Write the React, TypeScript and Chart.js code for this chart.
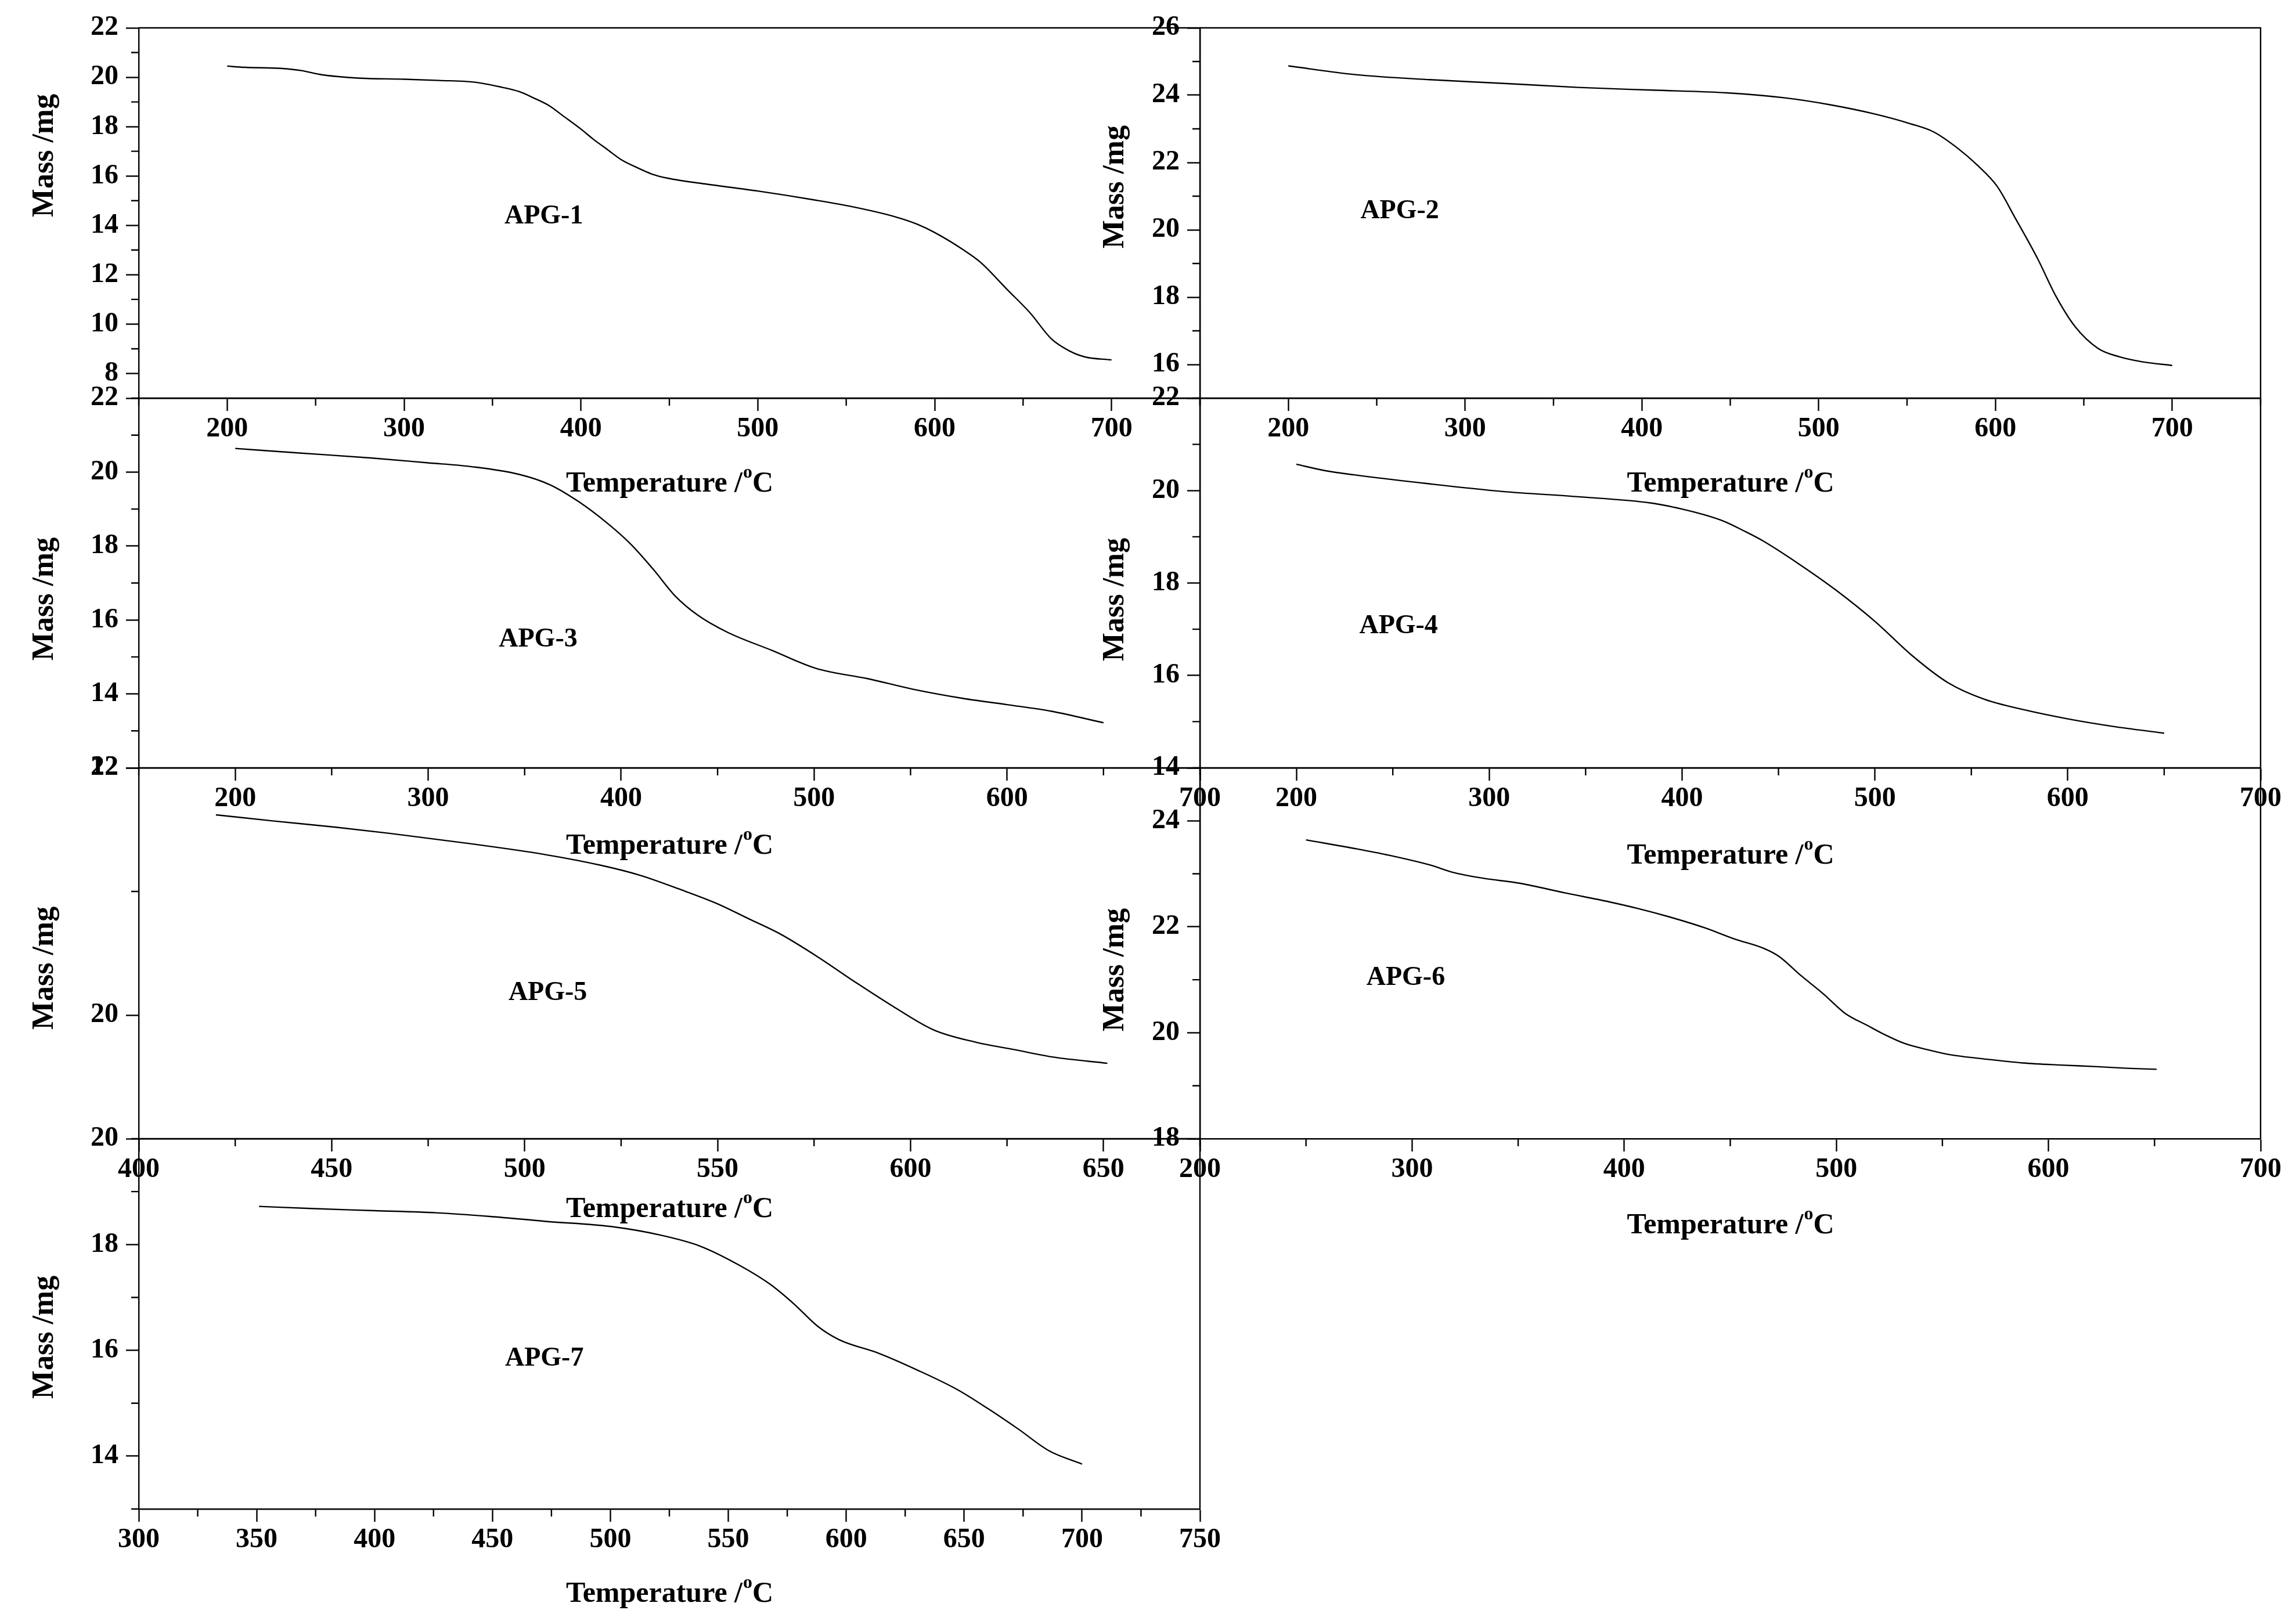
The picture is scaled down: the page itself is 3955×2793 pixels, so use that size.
import React, { useEffect, useRef } from "react";
import { Chart, registerables } from "chart.js";

Chart.register(...registerables);

// ---- data (temperature in °C, mass in mg) ----
const apg1Temp = [200, 210, 230, 242, 252, 262, 275, 300, 320, 340, 355, 365, 373, 382, 390, 400, 407, 415, 423, 432, 440, 449, 470, 500, 532, 553, 578, 590, 600, 616, 626, 641, 654, 666, 676, 685, 700];
const apg1Mass = [20.45, 20.4, 20.36, 20.27, 20.12, 20.03, 19.96, 19.92, 19.87, 19.8, 19.6, 19.42, 19.17, 18.85, 18.43, 17.9, 17.49, 17.07, 16.65, 16.33, 16.08, 15.91, 15.68, 15.39, 15.03, 14.76, 14.34, 14.05, 13.71, 13.02, 12.5, 11.4, 10.45, 9.4, 8.92, 8.67, 8.55];

const apg2Temp = [200, 238, 280, 322, 364, 406, 448, 481, 506, 531, 552, 565, 578, 590, 601, 611, 624, 634, 645, 658, 670, 683, 700];
const apg2Mass = [24.87, 24.61, 24.46, 24.35, 24.23, 24.15, 24.07, 23.92, 23.72, 23.45, 23.15, 22.91, 22.45, 21.91, 21.29, 20.37, 19.13, 18.05, 17.13, 16.48, 16.23, 16.08, 15.97];

const apg3Temp = [200, 232, 271, 300, 322, 347, 363, 378, 393, 405, 417, 428, 440, 455, 478, 501, 528, 551, 577, 600, 623, 650];
const apg3Mass = [20.64, 20.52, 20.38, 20.25, 20.15, 19.94, 19.66, 19.2, 18.61, 18.05, 17.35, 16.65, 16.12, 15.67, 15.18, 14.69, 14.41, 14.13, 13.88, 13.71, 13.53, 13.22];

const apg4Temp = [200, 215, 230, 268, 307, 345, 384, 400, 412, 422, 432, 442, 461, 480, 500, 519, 538, 557, 577, 600, 623, 650];
const apg4Mass = [20.57, 20.43, 20.34, 20.15, 19.98, 19.87, 19.73, 19.6, 19.47, 19.33, 19.13, 18.91, 18.4, 17.84, 17.17, 16.44, 15.84, 15.48, 15.26, 15.06, 14.9, 14.75];

const apg5Temp = [420, 435, 451, 465, 485, 505, 520, 530, 540, 550, 558, 566, 576, 586, 596, 606, 617, 627, 637, 651];
const apg5Mass = [21.62, 21.57, 21.52, 21.47, 21.39, 21.3, 21.21, 21.13, 21.02, 20.9, 20.78, 20.66, 20.47, 20.26, 20.06, 19.88, 19.78, 19.72, 19.66, 19.61];

const apg6Temp = [250, 274, 288, 309, 319, 333, 351, 372, 393, 407, 421, 438, 452, 466, 473, 483, 494, 504, 515, 522, 532, 543, 553, 571, 588, 606, 623, 637, 651];
const apg6Mass = [23.64, 23.47, 23.36, 23.16, 23.03, 22.92, 22.82, 22.64, 22.47, 22.34, 22.19, 21.98, 21.77, 21.59, 21.44, 21.09, 20.73, 20.37, 20.13, 19.98, 19.8, 19.68, 19.59, 19.5, 19.43, 19.39, 19.36, 19.33, 19.31];

const apg7Temp = [351, 373, 400, 426, 449, 472, 502, 521, 538, 555, 568, 578, 588, 597, 614, 630, 647, 660, 673, 686, 700];
const apg7Mass = [18.72, 18.68, 18.64, 18.6, 18.53, 18.44, 18.33, 18.18, 17.97, 17.6, 17.24, 16.87, 16.45, 16.2, 15.94, 15.63, 15.26, 14.9, 14.51, 14.1, 13.85];

const sampleNames = ["APG-1", "APG-2", "APG-3", "APG-4", "APG-5", "APG-6", "APG-7"];
const tempSeries = [apg1Temp, apg2Temp, apg3Temp, apg4Temp, apg5Temp, apg6Temp, apg7Temp];
const massSeries = [apg1Mass, apg2Mass, apg3Mass, apg4Mass, apg5Mass, apg6Mass, apg7Mass];

// axis ranges: [min, max, major step, minor step]
const xRanges = [
  [150, 750, 100, 50],
  [150, 750, 100, 50],
  [150, 700, 100, 50],
  [150, 700, 100, 50],
  [400, 675, 50, 25],
  [200, 700, 100, 50],
  [300, 750, 50, 25],
];
const yRanges = [
  [7, 22, 2, 1],
  [15, 26, 2, 1],
  [12, 22, 2, 1],
  [14, 22, 2, 1],
  [19, 22, 2, 1],
  [18, 25, 2, 1],
  [13, 20, 2, 1],
];
// where the sample name sits, in data units
const nameAt = [
  [379, 14.36],
  [263, 20.55],
  [357, 15.46],
  [253, 17.06],
  [506, 20.18],
  [297, 21.03],
  [472, 15.84],
];

// ---- page layout (px) ----
const COLS = [239, 2067, 3894];
const ROWS = [48, 686, 1323, 1962, 2600];
const PAD_L = 230;
const PAD_T = 45;
const PAD_R = 80;
const PAD_B = 190;
const cells = [
  { col: 0, row: 0, massY: 268, tempDy: 144 },
  { col: 1, row: 0, massY: 322, tempDy: 144 },
  { col: 0, row: 1, massY: 1032, tempDy: 131 },
  { col: 1, row: 1, massY: 1033, tempDy: 148 },
  { col: 0, row: 2, massY: 1668, tempDy: 118 },
  { col: 1, row: 2, massY: 1671, tempDy: 146 },
  { col: 0, row: 3, massY: 2304, tempDy: 143 },
];
const MASS_DX = [161, 145];

const FONT = "'Liberation Serif', 'Times New Roman', Times, serif";
const MAJOR_LEN = 22;
const MINOR_LEN = 13;
const AXIS_W = 2.4;

// multiples of step inside [min, max]
const stepValues = (min: number, max: number, step: number) => {
  const out: number[] = [];
  for (let v = Math.ceil(min / step - 1e-9) * step; v <= max + 1e-9; v += step) {
    out.push(Math.round(v * 1000) / 1000);
  }
  return out;
};

interface PanelProps {
  index: number;
}

const Panel: React.FC<PanelProps> = ({ index }) => {
  const canvasRef = useRef<HTMLCanvasElement | null>(null);
  const chartRef = useRef<Chart | null>(null);

  const cell = cells[index];
  const left = COLS[cell.col];
  const right = COLS[cell.col + 1];
  const top = ROWS[cell.row];
  const bottom = ROWS[cell.row + 1];
  const width = right - left + PAD_L + PAD_R;
  const height = bottom - top + PAD_T + PAD_B;
  const canvasTop = top - PAD_T;

  useEffect(() => {
    if (!canvasRef.current) return;
    if (chartRef.current) chartRef.current.destroy();

    const [xMin, xMax, xStep, xMinor] = xRanges[index];
    const [yMin, yMax, yStep, yMinor] = yRanges[index];
    const temps = tempSeries[index];
    const mass = massSeries[index];
    const xMajors = stepValues(xMin, xMax, xStep);
    const yMajors = stepValues(yMin, yMax, yStep);
    const xMinors = stepValues(xMin, xMax, xMinor).filter((v) => !xMajors.includes(v));
    const yMinors = stepValues(yMin, yMax, yMinor).filter((v) => !yMajors.includes(v));

    // frame, minor ticks and all the free text
    const decorations = {
      id: "decorations",
      afterDraw(chart: Chart) {
        const { ctx, chartArea: a } = chart;
        const xs = chart.scales.x;
        const ys = chart.scales.y;
        ctx.save();
        ctx.strokeStyle = "#000";
        ctx.fillStyle = "#000";

        ctx.lineWidth = AXIS_W;
        ctx.beginPath();
        ctx.moveTo(a.left, a.top);
        ctx.lineTo(a.right, a.top);
        ctx.lineTo(a.right, a.bottom);
        ctx.stroke();

        ctx.beginPath();
        xMinors.forEach((v) => {
          const px = xs.getPixelForValue(v);
          ctx.moveTo(px, a.bottom);
          ctx.lineTo(px, a.bottom + MINOR_LEN);
        });
        yMinors.forEach((v) => {
          const py = ys.getPixelForValue(v);
          ctx.moveTo(a.left, py);
          ctx.lineTo(a.left - MINOR_LEN, py);
        });
        ctx.stroke();

        // sample name
        ctx.font = `bold 46px ${FONT}`;
        ctx.textAlign = "center";
        ctx.textBaseline = "middle";
        ctx.fillText(
          sampleNames[index],
          xs.getPixelForValue(nameAt[index][0]),
          ys.getPixelForValue(nameAt[index][1])
        );

        // y title
        ctx.save();
        ctx.translate(a.left - MASS_DX[cell.col], cell.massY - canvasTop);
        ctx.rotate(-Math.PI / 2);
        ctx.font = `bold 52px ${FONT}`;
        ctx.fillText("Mass /mg", 0, 0);
        ctx.restore();

        // x title with superscript o
        const head = "Temperature /";
        ctx.font = `bold 50px ${FONT}`;
        const wHead = ctx.measureText(head).width;
        const wC = ctx.measureText("C").width;
        ctx.font = `bold 32px ${FONT}`;
        const wO = ctx.measureText("o").width;
        const start = (a.left + a.right) / 2 - (wHead + wO + wC) / 2;
        const base = a.bottom + cell.tempDy + 17;
        ctx.textAlign = "left";
        ctx.textBaseline = "alphabetic";
        ctx.font = `bold 50px ${FONT}`;
        ctx.fillText(head, start, base);
        ctx.fillText("C", start + wHead + wO + 1, base);
        ctx.font = `bold 32px ${FONT}`;
        ctx.fillText("o", start + wHead + 1, base - 24);

        ctx.restore();
      },
    };

    const tickFont = { family: FONT, size: 48, weight: "bold" as const };

    chartRef.current = new Chart(canvasRef.current, {
      type: "line",
      data: {
        datasets: [
          {
            data: temps.map((t, i) => ({ x: t, y: mass[i] })),
            borderColor: "#000",
            borderWidth: 2.4,
            pointRadius: 0,
            fill: false,
            cubicInterpolationMode: "monotone",
          },
        ],
      },
      options: {
        responsive: false,
        animation: false,
        events: [],
        layout: { padding: { left: 0, top: PAD_T, right: PAD_R, bottom: 0 } },
        plugins: { legend: { display: false }, tooltip: { enabled: false } },
        scales: {
          x: {
            type: "linear",
            min: xMin,
            max: xMax,
            afterFit: (s: any) => {
              s.height = PAD_B;
            },
            afterBuildTicks: (s: any) => {
              s.ticks = xMajors.map((v) => ({ value: v }));
            },
            ticks: {
              autoSkip: false,
              maxRotation: 0,
              padding: 3,
              color: "#000",
              font: tickFont,
              callback: (v: any) => String(v),
            },
            grid: {
              display: true,
              drawOnChartArea: false,
              drawTicks: true,
              tickLength: MAJOR_LEN,
              tickWidth: AXIS_W,
              tickColor: "#000",
            },
            border: { display: true, color: "#000", width: AXIS_W },
          },
          y: {
            type: "linear",
            position: "left",
            min: yMin,
            max: yMax,
            afterFit: (s: any) => {
              s.width = PAD_L;
            },
            afterBuildTicks: (s: any) => {
              s.ticks = yMajors.map((v) => ({ value: v }));
            },
            ticks: {
              autoSkip: false,
              padding: 13,
              color: "#000",
              font: tickFont,
              callback: (v: any) => String(v),
            },
            grid: {
              display: true,
              drawOnChartArea: false,
              drawTicks: true,
              tickLength: MAJOR_LEN,
              tickWidth: AXIS_W,
              tickColor: "#000",
            },
            border: { display: true, color: "#000", width: AXIS_W },
          },
        },
      },
      plugins: [decorations],
    });

    return () => {
      if (chartRef.current) {
        chartRef.current.destroy();
        chartRef.current = null;
      }
    };
  }, [index]);

  return (
    <canvas
      ref={canvasRef}
      width={width}
      height={height}
      style={{ position: "absolute", left: left - PAD_L, top: canvasTop, width, height }}
    />
  );
};

const App: React.FC = () => {
  return (
    <div
      style={{
        position: "fixed",
        left: 0,
        top: 0,
        width: 3955,
        height: 2793,
        overflow: "hidden",
        background: "#fff",
      }}
    >
      {sampleNames.map((name, i) => (
        <Panel key={name} index={i} />
      ))}
    </div>
  );
};

export default App;
